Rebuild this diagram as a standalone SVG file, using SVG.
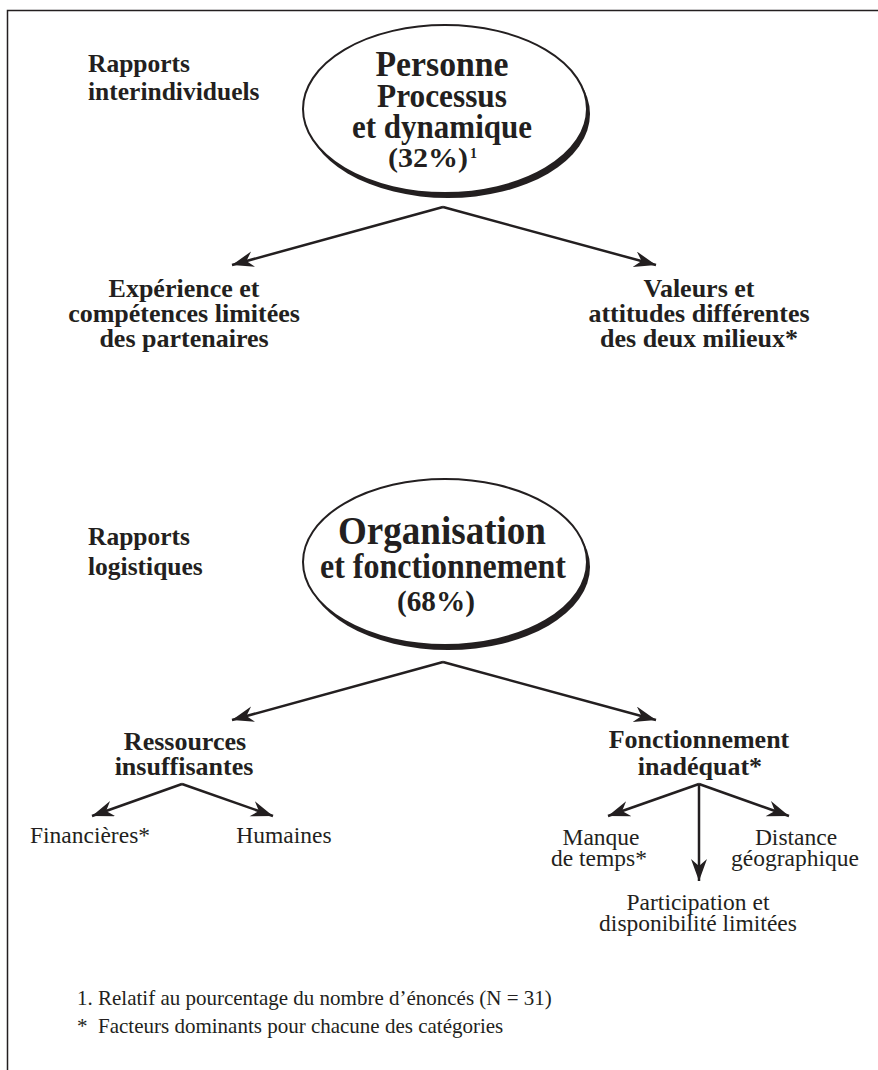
<svg xmlns="http://www.w3.org/2000/svg" width="878" height="1070" viewBox="0 0 878 1070">
<style>
.b{font-family:"Liberation Serif","Times New Roman",serif;font-weight:bold;fill:#231f20}
.r{font-family:"Liberation Serif","Times New Roman",serif;fill:#231f20}
.m{text-anchor:middle}
.c{stroke:#231f20;stroke-width:2.5;fill:none}
.sh{fill:#231f20}
.el{fill:#fff;stroke:#231f20;stroke-width:2}
</style>
<defs>
<marker id="ah" markerUnits="userSpaceOnUse" markerWidth="24" markerHeight="18" refX="22" refY="8" orient="auto">
<path d="M0,0 L22,8 L0,16 L7,8 z" fill="#231f20"/>
</marker>
</defs>
<rect width="878" height="1070" fill="#fff"/>
<g id="frame" stroke="#231f20" stroke-width="1.5" fill="none">
<path d="M878,10.5 H7.5 V1070"/>
</g>
<g id="label-interindividuels">
<text class="b" x="88" y="72" font-size="25.5">Rapports</text>
<text class="b" x="88" y="100" font-size="25.5">interindividuels</text>
</g>
<g id="node-personne">
<ellipse class="sh" cx="448" cy="114" rx="142" ry="84"/>
<ellipse class="el" cx="445" cy="109" rx="142" ry="84"/>
<text class="b m" x="442" y="76" font-size="36" textLength="133" lengthAdjust="spacingAndGlyphs">Personne</text>
<text class="b m" x="442" y="107" font-size="33" textLength="130" lengthAdjust="spacingAndGlyphs">Processus</text>
<text class="b m" x="442" y="138" font-size="33" textLength="180" lengthAdjust="spacingAndGlyphs">et dynamique</text>
<text class="b" x="388" y="167" font-size="28" textLength="80" lengthAdjust="spacingAndGlyphs">(32%)</text>
<text class="b" x="470" y="158" font-size="14">1</text>
</g>
<g id="node-experience">
<text class="b m" x="184" y="297" font-size="26">Expérience et</text>
<text class="b m" x="184" y="322" font-size="26">compétences limitées</text>
<text class="b m" x="184" y="347" font-size="26">des partenaires</text>
</g>
<g id="node-valeurs">
<text class="b m" x="699" y="297" font-size="26">Valeurs et</text>
<text class="b m" x="699" y="322" font-size="26">attitudes différentes</text>
<text class="b m" x="699" y="347" font-size="26">des deux milieux*</text>
</g>
<g id="label-logistiques">
<text class="b" x="88" y="545" font-size="25.5">Rapports</text>
<text class="b" x="88" y="575" font-size="25.5">logistiques</text>
</g>
<g id="node-organisation">
<ellipse class="sh" cx="448" cy="567" rx="142" ry="83"/>
<ellipse class="el" cx="445" cy="562" rx="142" ry="83"/>
<text class="b m" x="442" y="544" font-size="39" textLength="208" lengthAdjust="spacingAndGlyphs">Organisation</text>
<text class="b m" x="443" y="578" font-size="35" textLength="246" lengthAdjust="spacingAndGlyphs">et fonctionnement</text>
<text class="b m" x="436" y="611" font-size="30" textLength="78" lengthAdjust="spacingAndGlyphs">(68%)</text>
</g>
<g id="node-ressources">
<text class="b m" x="185" y="750" font-size="26">Ressources</text>
<text class="b m" x="184" y="775" font-size="26">insuffisantes</text>
</g>
<g id="node-fonctionnement">
<text class="b m" x="699" y="748" font-size="26">Fonctionnement</text>
<text class="b m" x="700" y="775" font-size="26">inadéquat*</text>
</g>
<g id="node-financieres">
<text class="r m" x="90" y="843" font-size="23.5">Financières*</text>
</g>
<g id="node-humaines">
<text class="r m" x="284" y="843" font-size="23.5">Humaines</text>
</g>
<g id="node-manque">
<text class="r m" x="601" y="845" font-size="23.5">Manque</text>
<text class="r m" x="599" y="866" font-size="23.5">de temps*</text>
</g>
<g id="node-distance">
<text class="r m" x="796" y="845" font-size="23.5">Distance</text>
<text class="r m" x="795" y="866" font-size="23.5">géographique</text>
</g>
<g id="node-participation">
<text class="r m" x="698" y="910" font-size="23.5">Participation et</text>
<text class="r m" x="698" y="931" font-size="23.5">disponibilité limitées</text>
</g>
<g id="connectors">
<path class="c" d="M443,207 L232,265" marker-end="url(#ah)"/>
<path class="c" d="M443,207 L656,265" marker-end="url(#ah)"/>
<path class="c" d="M443,662 L232,720" marker-end="url(#ah)"/>
<path class="c" d="M443,662 L656,720" marker-end="url(#ah)"/>
<path class="c" d="M182,784 L92,816" marker-end="url(#ah)"/>
<path class="c" d="M182,784 L273,816" marker-end="url(#ah)"/>
<path class="c" d="M699,784 L608,816" marker-end="url(#ah)"/>
<path class="c" d="M699,784 L789,816" marker-end="url(#ah)"/>
<path class="c" d="M699,784 L699,881" marker-end="url(#ah)"/>
</g>
<g id="footnotes">
<text class="r" x="77" y="1005" font-size="21">1. Relatif au pourcentage du nombre d’énoncés (N = 31)</text>
<text class="r" x="77" y="1033" font-size="21">*</text>
<text class="r" x="98" y="1033" font-size="21">Facteurs dominants pour chacune des catégories</text>
</g>
</svg>
